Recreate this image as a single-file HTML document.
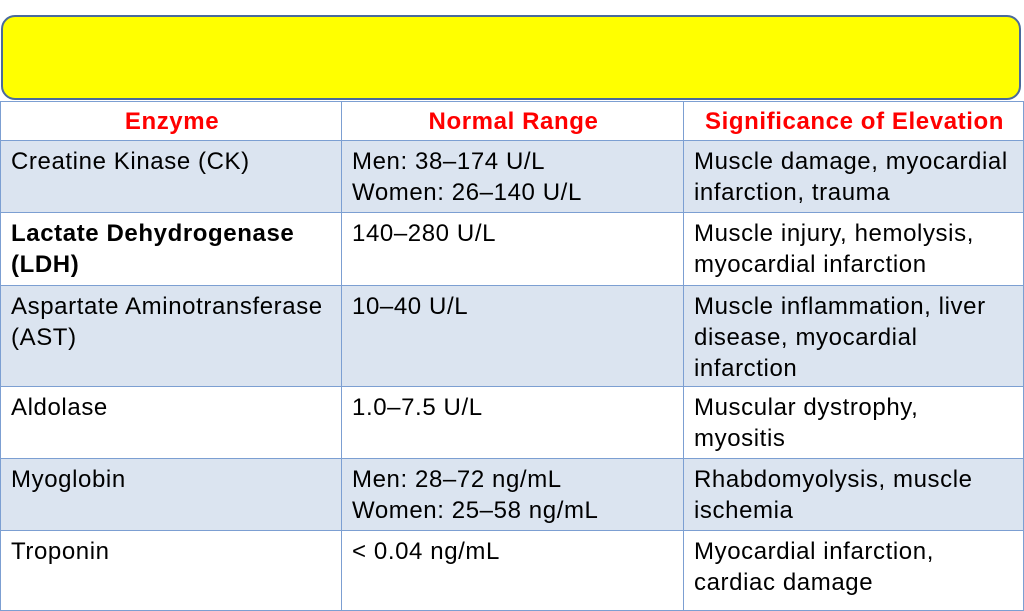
<!DOCTYPE html>
<html><head><meta charset="utf-8"><style>
html,body{margin:0;padding:0;width:1024px;height:576px;overflow:hidden;background:#fff;font-family:"Liberation Sans",Arial,sans-serif;}
.banner{position:absolute;left:1px;top:15px;width:1020px;height:85px;background:#ffff00;border:2px solid #4a6a9c;border-radius:14px;box-sizing:border-box;}
.row{position:absolute;left:0;width:1024px;}
.cell{position:absolute;top:0;bottom:0;box-sizing:border-box;border-left:1.5px solid #7c9fd2;border-bottom:1.5px solid #7c9fd2;padding:5px 8px 0 10px;font-size:24px;letter-spacing:0.6px;line-height:31px;color:#000;white-space:nowrap;}
.c1{left:0;width:341px;}
.c2{left:341px;width:342px;}
.c3{left:683px;width:341px;border-right:1.5px solid #7c9fd2;}
.hd .cell{color:#ff0000;font-weight:bold;text-align:center;padding-top:4px;}
.alt{background:#dbe4f0;}
</style></head><body>
<div class="banner"></div>
<div>
<div class="row hd" style="top:101px;height:40px;border-top:1.5px solid #7c9fd2;box-sizing:border-box">
<div class="cell c1">Enzyme</div>
<div class="cell c2">Normal Range</div>
<div class="cell c3">Significance of Elevation</div>
</div>
<div class="row alt" style="top:141px;height:72px">
<div class="cell c1">Creatine Kinase (CK)</div>
<div class="cell c2">Men: 38–174 U/L<br>Women: 26–140 U/L</div>
<div class="cell c3">Muscle damage, myocardial<br>infarction, trauma</div>
</div>
<div class="row" style="top:213px;height:73px">
<div class="cell c1" style="font-weight:bold">Lactate Dehydrogenase<br>(LDH)</div>
<div class="cell c2">140–280 U/L</div>
<div class="cell c3">Muscle injury, hemolysis,<br>myocardial infarction</div>
</div>
<div class="row alt" style="top:286px;height:101px">
<div class="cell c1">Aspartate Aminotransferase<br>(AST)</div>
<div class="cell c2">10–40 U/L</div>
<div class="cell c3">Muscle inflammation, liver<br>disease, myocardial<br>infarction</div>
</div>
<div class="row" style="top:387px;height:72px">
<div class="cell c1">Aldolase</div>
<div class="cell c2">1.0–7.5 U/L</div>
<div class="cell c3">Muscular dystrophy,<br>myositis</div>
</div>
<div class="row alt" style="top:459px;height:72px">
<div class="cell c1">Myoglobin</div>
<div class="cell c2">Men: 28–72 ng/mL<br>Women: 25–58 ng/mL</div>
<div class="cell c3">Rhabdomyolysis, muscle<br>ischemia</div>
</div>
<div class="row" style="top:531px;height:80px">
<div class="cell c1">Troponin</div>
<div class="cell c2">&lt; 0.04 ng/mL</div>
<div class="cell c3">Myocardial infarction,<br>cardiac damage</div>
</div>
</div>
</body></html>
